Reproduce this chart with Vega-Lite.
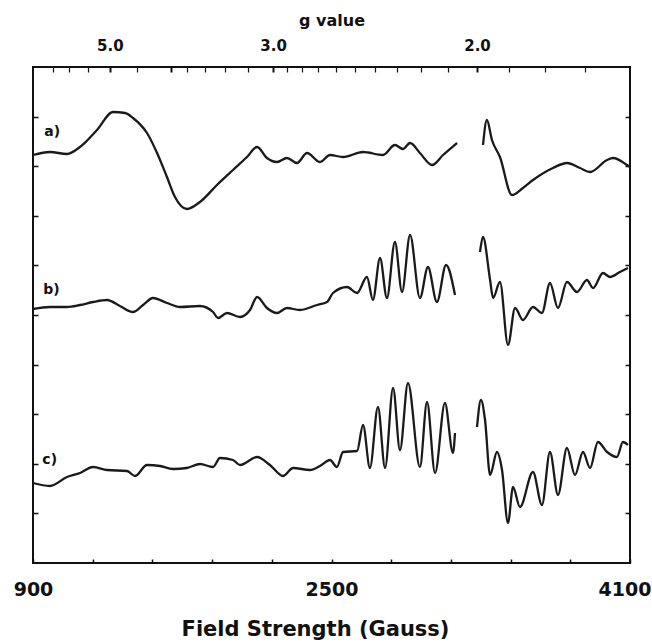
{
  "$schema": "https://vega.github.io/schema/vega-lite/v6.json",
  "autosize": {"type": "none"},
  "width": 597,
  "height": 496,
  "padding": {"left": 33, "top": 67, "right": 22, "bottom": 79},
  "background": "white",
  "config": {
    "view": {"stroke": "#111", "strokeWidth": 2},
    "font": "DejaVu Sans",
    "axis": {"grid": false, "domain": false, "labelFont": "DejaVu Sans", "titleFont": "DejaVu Sans", "labelColor": "#111", "titleColor": "#111", "tickColor": "#111"}
  },
  "datasets": {
    "spectra": [
      {"seg": "a1", "B": 900, "I": 408}, {"seg": "a1", "B": 991, "I": 411}, {"seg": "a1", "B": 1082, "I": 409}, {"seg": "a1", "B": 1152, "I": 416}, {"seg": "a1", "B": 1243, "I": 433}, {"seg": "a1", "B": 1329, "I": 451}, {"seg": "a1", "B": 1393, "I": 450}, {"seg": "a1", "B": 1436, "I": 445}, {"seg": "a1", "B": 1511, "I": 430}, {"seg": "a1", "B": 1565, "I": 410}, {"seg": "a1", "B": 1618, "I": 386}, {"seg": "a1", "B": 1661, "I": 366}, {"seg": "a1", "B": 1725, "I": 354}, {"seg": "a1", "B": 1795, "I": 361}, {"seg": "a1", "B": 1886, "I": 378}, {"seg": "a1", "B": 1972, "I": 393}, {"seg": "a1", "B": 2047, "I": 406}, {"seg": "a1", "B": 2101, "I": 416}, {"seg": "a1", "B": 2154, "I": 405}, {"seg": "a1", "B": 2208, "I": 401}, {"seg": "a1", "B": 2261, "I": 405}, {"seg": "a1", "B": 2315, "I": 400}, {"seg": "a1", "B": 2369, "I": 410}, {"seg": "a1", "B": 2438, "I": 401}, {"seg": "a1", "B": 2492, "I": 408}, {"seg": "a1", "B": 2562, "I": 406}, {"seg": "a1", "B": 2669, "I": 411}, {"seg": "a1", "B": 2776, "I": 408}, {"seg": "a1", "B": 2840, "I": 418}, {"seg": "a1", "B": 2883, "I": 414}, {"seg": "a1", "B": 2921, "I": 420}, {"seg": "a1", "B": 2974, "I": 410}, {"seg": "a1", "B": 3039, "I": 398}, {"seg": "a1", "B": 3098, "I": 408}, {"seg": "a1", "B": 3173, "I": 420},
      {"seg": "a2", "B": 3312, "I": 418}, {"seg": "a2", "B": 3333, "I": 443}, {"seg": "a2", "B": 3360, "I": 423}, {"seg": "a2", "B": 3403, "I": 406}, {"seg": "a2", "B": 3467, "I": 368}, {"seg": "a2", "B": 3526, "I": 375}, {"seg": "a2", "B": 3580, "I": 383}, {"seg": "a2", "B": 3687, "I": 395}, {"seg": "a2", "B": 3762, "I": 400}, {"seg": "a2", "B": 3832, "I": 395}, {"seg": "a2", "B": 3886, "I": 391}, {"seg": "a2", "B": 3977, "I": 403}, {"seg": "a2", "B": 4009, "I": 405}, {"seg": "a2", "B": 4084, "I": 398}, {"seg": "a2", "B": 4100, "I": 396},
      {"seg": "b1", "B": 900, "I": 254}, {"seg": "b1", "B": 991, "I": 256}, {"seg": "b1", "B": 1082, "I": 256}, {"seg": "b1", "B": 1152, "I": 258}, {"seg": "b1", "B": 1222, "I": 261}, {"seg": "b1", "B": 1297, "I": 263}, {"seg": "b1", "B": 1366, "I": 257}, {"seg": "b1", "B": 1436, "I": 251}, {"seg": "b1", "B": 1490, "I": 258}, {"seg": "b1", "B": 1543, "I": 265}, {"seg": "b1", "B": 1618, "I": 260}, {"seg": "b1", "B": 1688, "I": 256}, {"seg": "b1", "B": 1795, "I": 257}, {"seg": "b1", "B": 1865, "I": 251}, {"seg": "b1", "B": 1892, "I": 245}, {"seg": "b1", "B": 1940, "I": 250}, {"seg": "b1", "B": 2010, "I": 246}, {"seg": "b1", "B": 2063, "I": 253}, {"seg": "b1", "B": 2101, "I": 266}, {"seg": "b1", "B": 2154, "I": 255}, {"seg": "b1", "B": 2208, "I": 250}, {"seg": "b1", "B": 2261, "I": 255}, {"seg": "b1", "B": 2331, "I": 253}, {"seg": "b1", "B": 2422, "I": 258}, {"seg": "b1", "B": 2476, "I": 261}, {"seg": "b1", "B": 2508, "I": 270}, {"seg": "b1", "B": 2583, "I": 276}, {"seg": "b1", "B": 2637, "I": 270}, {"seg": "b1", "B": 2690, "I": 286}, {"seg": "b1", "B": 2722, "I": 263}, {"seg": "b1", "B": 2760, "I": 305}, {"seg": "b1", "B": 2797, "I": 265}, {"seg": "b1", "B": 2840, "I": 321}, {"seg": "b1", "B": 2878, "I": 271}, {"seg": "b1", "B": 2921, "I": 328}, {"seg": "b1", "B": 2974, "I": 265}, {"seg": "b1", "B": 3017, "I": 296}, {"seg": "b1", "B": 3065, "I": 261}, {"seg": "b1", "B": 3114, "I": 298}, {"seg": "b1", "B": 3162, "I": 268},
      {"seg": "b2", "B": 3296, "I": 311}, {"seg": "b2", "B": 3312, "I": 326}, {"seg": "b2", "B": 3350, "I": 283}, {"seg": "b2", "B": 3366, "I": 265}, {"seg": "b2", "B": 3403, "I": 281}, {"seg": "b2", "B": 3446, "I": 218}, {"seg": "b2", "B": 3484, "I": 255}, {"seg": "b2", "B": 3526, "I": 243}, {"seg": "b2", "B": 3580, "I": 256}, {"seg": "b2", "B": 3628, "I": 250}, {"seg": "b2", "B": 3671, "I": 280}, {"seg": "b2", "B": 3714, "I": 255}, {"seg": "b2", "B": 3762, "I": 281}, {"seg": "b2", "B": 3816, "I": 271}, {"seg": "b2", "B": 3869, "I": 283}, {"seg": "b2", "B": 3902, "I": 275}, {"seg": "b2", "B": 3955, "I": 290}, {"seg": "b2", "B": 3993, "I": 286}, {"seg": "b2", "B": 4046, "I": 291}, {"seg": "b2", "B": 4089, "I": 295},
      {"seg": "c1", "B": 900, "I": 80}, {"seg": "c1", "B": 991, "I": 77}, {"seg": "c1", "B": 1082, "I": 86}, {"seg": "c1", "B": 1152, "I": 90}, {"seg": "c1", "B": 1222, "I": 96}, {"seg": "c1", "B": 1297, "I": 93}, {"seg": "c1", "B": 1404, "I": 92}, {"seg": "c1", "B": 1447, "I": 87}, {"seg": "c1", "B": 1511, "I": 98}, {"seg": "c1", "B": 1581, "I": 97}, {"seg": "c1", "B": 1650, "I": 94}, {"seg": "c1", "B": 1725, "I": 95}, {"seg": "c1", "B": 1795, "I": 99}, {"seg": "c1", "B": 1865, "I": 96}, {"seg": "c1", "B": 1902, "I": 105}, {"seg": "c1", "B": 1972, "I": 103}, {"seg": "c1", "B": 2010, "I": 98}, {"seg": "c1", "B": 2101, "I": 106}, {"seg": "c1", "B": 2170, "I": 98}, {"seg": "c1", "B": 2240, "I": 87}, {"seg": "c1", "B": 2294, "I": 95}, {"seg": "c1", "B": 2385, "I": 93}, {"seg": "c1", "B": 2438, "I": 97}, {"seg": "c1", "B": 2492, "I": 103}, {"seg": "c1", "B": 2529, "I": 96}, {"seg": "c1", "B": 2562, "I": 111}, {"seg": "c1", "B": 2637, "I": 112}, {"seg": "c1", "B": 2669, "I": 138}, {"seg": "c1", "B": 2706, "I": 95}, {"seg": "c1", "B": 2749, "I": 156}, {"seg": "c1", "B": 2787, "I": 95}, {"seg": "c1", "B": 2830, "I": 175}, {"seg": "c1", "B": 2867, "I": 113}, {"seg": "c1", "B": 2910, "I": 180}, {"seg": "c1", "B": 2974, "I": 96}, {"seg": "c1", "B": 3012, "I": 161}, {"seg": "c1", "B": 3055, "I": 90}, {"seg": "c1", "B": 3108, "I": 160}, {"seg": "c1", "B": 3151, "I": 110}, {"seg": "c1", "B": 3162, "I": 130},
      {"seg": "c2", "B": 3280, "I": 136}, {"seg": "c2", "B": 3301, "I": 163}, {"seg": "c2", "B": 3323, "I": 143}, {"seg": "c2", "B": 3350, "I": 88}, {"seg": "c2", "B": 3387, "I": 111}, {"seg": "c2", "B": 3414, "I": 93}, {"seg": "c2", "B": 3446, "I": 40}, {"seg": "c2", "B": 3473, "I": 76}, {"seg": "c2", "B": 3510, "I": 56}, {"seg": "c2", "B": 3580, "I": 91}, {"seg": "c2", "B": 3628, "I": 58}, {"seg": "c2", "B": 3671, "I": 111}, {"seg": "c2", "B": 3714, "I": 68}, {"seg": "c2", "B": 3762, "I": 115}, {"seg": "c2", "B": 3805, "I": 88}, {"seg": "c2", "B": 3848, "I": 111}, {"seg": "c2", "B": 3886, "I": 95}, {"seg": "c2", "B": 3928, "I": 121}, {"seg": "c2", "B": 3977, "I": 111}, {"seg": "c2", "B": 4030, "I": 106}, {"seg": "c2", "B": 4062, "I": 121}, {"seg": "c2", "B": 4089, "I": 118}
    ],
    "labels": [
      {"B": 960, "I": 431, "t": "a)"},
      {"B": 955, "I": 273, "t": "b)"},
      {"B": 950, "I": 103, "t": "c)"}
    ]
  },
  "layer": [
    {
      "data": {"name": "spectra"},
      "mark": {"type": "line", "stroke": "#1a1a1a", "strokeWidth": 2.3, "strokeJoin": "round", "interpolate": "monotone"},
      "encoding": {
        "x": {"field": "B", "type": "quantitative", "scale": {"domain": [900, 4100], "nice": false, "zero": false},
          "axis": {"orient": "bottom", "title": "Field Strength (Gauss)", "titleFontSize": 21, "titleFontWeight": "bold", "titlePadding": 19, "titleX": 282,
            "values": [900, 1220, 1540, 1860, 2180, 2500, 2820, 3140, 3460, 3780, 4100],
            "labelExpr": "(datum.value == 900 || datum.value == 2500 || datum.value == 4100) ? datum.label : ''",
            "format": "d", "labelFontSize": 19, "labelFontWeight": "bold", "labelFlush": false, "labelOverlap": false,
            "labelAlign": {"condition": {"test": "datum.value == 4100", "value": "right"}, "value": "center"},
            "labelOffset": {"condition": {"test": "datum.value == 4100", "value": 21}, "value": 0},
            "tickSize": -4, "tickWidth": 1.5, "labelPadding": 21}},
        "y": {"field": "I", "type": "quantitative", "scale": {"domain": [0, 496], "nice": false, "zero": false},
          "axis": {"orient": "left", "title": null, "labels": false, "values": [49.6, 99.2, 148.8, 198.4, 248, 297.6, 347.2, 396.8, 446.4], "tickSize": -5, "tickWidth": 1.5}},
        "detail": {"field": "seg"}
      }
    },
    {
      "data": {"name": "labels"},
      "mark": {"type": "text", "align": "left", "baseline": "middle", "fontSize": 14, "fontWeight": "bold", "font": "DejaVu Sans", "color": "#111"},
      "encoding": {
        "x": {"field": "B", "type": "quantitative", "scale": {"domain": [900, 4100], "nice": false, "zero": false}, "axis": null},
        "y": {"field": "I", "type": "quantitative", "scale": {"domain": [0, 496], "nice": false, "zero": false}, "axis": null},
        "text": {"field": "t"}
      }
    },
    {
      "data": {"name": "labels"},
      "mark": {"type": "point", "opacity": 0},
      "encoding": {
        "x": {"field": "B", "type": "quantitative", "scale": {"domain": [900, 4100], "nice": false, "zero": false},
          "axis": {"orient": "top", "title": "g value", "titleFontSize": 16, "titleFontWeight": "bold", "titlePadding": 10,
            "values": [1009, 1093, 1193, 1312, 1458, 1640, 1726, 1822, 1929, 2050, 2187, 2262, 2343, 2430, 2523, 2624, 2733, 2852, 2982, 3124, 3280, 3453, 3644, 3859],
            "labelExpr": "(datum.value == 1312 || datum.value == 2187 || datum.value == 3280) ? format(6560 / datum.value, '.1f') : ''",
            "labelFontSize": 15, "labelFontWeight": "bold", "labelOverlap": false, "labelFlush": false,
            "tickSize": -5,
            "tickWidth": {"condition": {"test": "datum.value == 1312 || datum.value == 1640 || datum.value == 2187 || datum.value == 3280", "value": 2}, "value": 1.2},
            "labelPadding": 19}},
        "y": {"field": "I", "type": "quantitative", "scale": {"domain": [0, 496], "nice": false, "zero": false},
          "axis": {"orient": "right", "title": null, "labels": false, "values": [49.6, 99.2, 148.8, 198.4, 248, 297.6, 347.2, 396.8, 446.4], "tickSize": -5, "tickWidth": 1.5}}
      }
    }
  ],
  "resolve": {"scale": {"x": "independent", "y": "independent"}, "axis": {"x": "independent", "y": "independent"}}
}
